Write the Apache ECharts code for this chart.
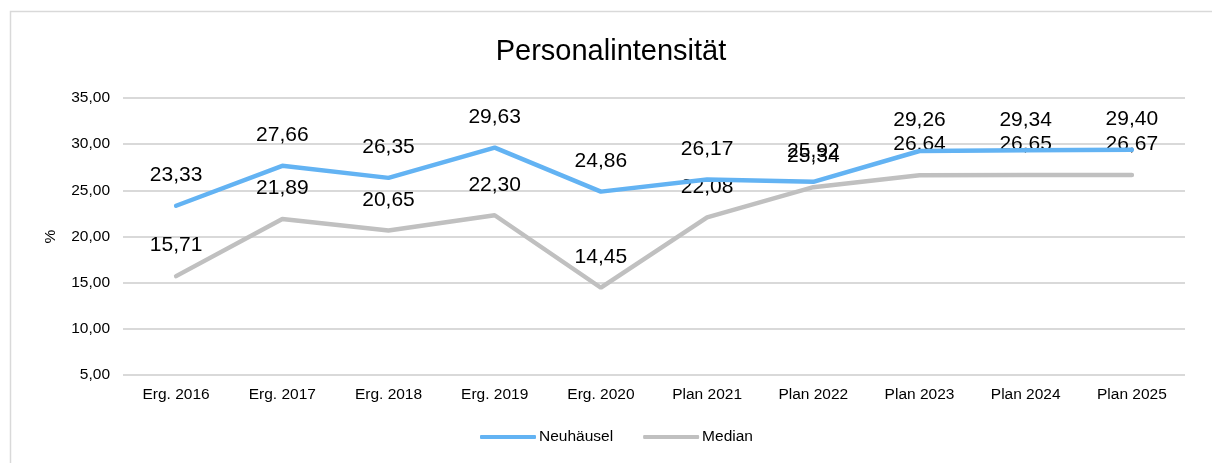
<!DOCTYPE html>
<html>
<head>
<meta charset="utf-8">
<script src="https://cdn.jsdelivr.net/npm/echarts@6/dist/echarts.min.js"></script>
<style>
  html, body { margin: 0; padding: 0; background: #fff; }
  #chart { width: 1212px; height: 463px; }
</style>
</head>
<body>
<div id="chart"></div>
<script>
// Daten
var categories = ['Erg. 2016', 'Erg. 2017', 'Erg. 2018', 'Erg. 2019', 'Erg. 2020',
                  'Plan 2021', 'Plan 2022', 'Plan 2023', 'Plan 2024', 'Plan 2025'];
var neuhaeusel = [23.33, 27.66, 26.35, 29.63, 24.86, 26.17, 25.92, 29.26, 29.34, 29.40];
var median = [15.71, 21.89, 20.65, 22.30, 14.45, 22.08, 25.34, 26.64, 26.65, 26.67];

function fmt(v) {
    return Number(v).toFixed(2).replace('.', ',');
}

var chart = echarts.init(document.getElementById('chart'));
var font = 'Liberation Sans, Arial, sans-serif';

var labelOpt = {
    show: true, position: 'top', distance: 20,
    color: '#000', fontSize: 21,
    formatter: function (p) { return fmt(p.value); }
};

chart.setOption({
    animation: false,
    textStyle: { fontFamily: font },
    graphic: [{
        type: 'rect',
        shape: { x: 10.5, y: 11.5, width: 1215, height: 470 },
        style: { fill: 'none', stroke: '#d9d9d9', lineWidth: 1.5 },
        silent: true
    }],
    title: {
        text: 'Personalintensität',
        left: 606,
        textAlign: 'center',
        top: 32,
        textStyle: { fontFamily: font, fontSize: 29, fontWeight: 'normal', color: '#000' }
    },
    grid: { left: 123, right: 27, top: 98, bottom: 88, containLabel: false },
    legend: {
        bottom: 13,
        left: 475,
        itemWidth: 56,
        itemHeight: 4,
        itemGap: 30,
        icon: 'roundRect',
        textStyle: { fontFamily: font, fontSize: 15.5, color: '#000', padding: [0, 0, 0, -2] },
        data: ['Neuhäusel', 'Median']
    },
    xAxis: {
        type: 'category',
        data: categories,
        boundaryGap: true,
        axisLine: { show: false },
        axisTick: { show: false },
        axisLabel: { color: '#000', fontSize: 15.5, margin: 12, interval: 0 }
    },
    yAxis: {
        type: 'value',
        min: 5,
        max: 35,
        interval: 5,
        name: '%',
        nameLocation: 'middle',
        nameGap: 64,
        nameRotate: 90,
        nameTextStyle: { color: '#000', fontSize: 15.5 },
        axisLine: { show: false },
        axisTick: { show: false },
        axisLabel: { color: '#000', fontSize: 15.5, margin: 13, formatter: fmt },
        splitLine: { lineStyle: { color: '#d9d9d9', width: 2 } }
    },
    series: [
        {
            name: 'Neuhäusel',
            type: 'line',
            data: neuhaeusel,
            symbol: 'circle',
            symbolSize: 0,
            showSymbol: true,
            lineStyle: { color: '#63b3f3', width: 4.5, cap: 'round' },
            itemStyle: { color: '#63b3f3' },
            label: labelOpt,
            labelLayout: { hideOverlap: false },
            z: 3
        },
        {
            name: 'Median',
            type: 'line',
            data: median,
            symbol: 'circle',
            symbolSize: 0,
            showSymbol: true,
            lineStyle: { color: '#c0c0c0', width: 4.5, cap: 'round' },
            itemStyle: { color: '#c0c0c0' },
            label: labelOpt,
            labelLayout: { hideOverlap: false },
            z: 2
        }
    ]
});
</script>
</body>
</html>
